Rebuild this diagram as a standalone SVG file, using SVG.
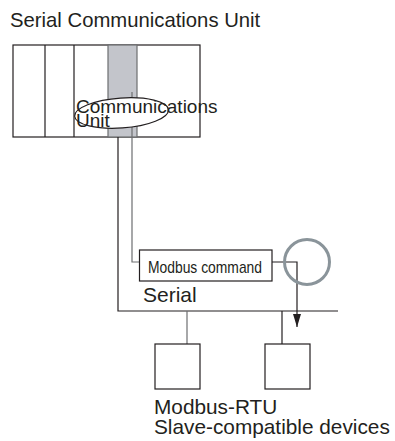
<svg xmlns="http://www.w3.org/2000/svg" width="395" height="441" viewBox="0 0 395 441">
<style>
text{font-family:"Liberation Sans",Arial,sans-serif;fill:#231f20}
.ln{stroke:#231f20;stroke-width:1.2;fill:none}
.gl{stroke:#6d6e71;stroke-width:1.2;fill:none}
.bx{stroke:#231f20;stroke-width:1.2;fill:#fff}
</style>
<defs>
<marker id="ah" markerWidth="13" markerHeight="8" refX="13" refY="4" orient="auto" markerUnits="userSpaceOnUse" viewBox="0 0 13 8">
<path d="M0,0 L13,4 L0,8 Z" fill="#231f20"/>
</marker>
</defs>
<text x="10" y="27" font-size="20.3">Serial Communications Unit</text>
<g id="plc">
<rect x="13" y="45" width="187" height="92" class="ln" fill="#fff"/>
<line x1="45" y1="45" x2="45" y2="137" class="ln"/>
<line x1="74" y1="45" x2="74" y2="137" class="ln"/>
<rect x="108" y="45" width="29" height="92" fill="#c3c5cb" stroke="#6d6e71" stroke-width="1.2"/>
<line x1="132" y1="92" x2="132" y2="137" class="gl"/>
</g>
<g id="connectors">
<polyline points="132,137 132,262 140,262" class="gl"/>
<polyline points="118,137 118,311 338,311" class="ln"/>
<polyline points="272,262 297,262 297,327" class="ln" marker-end="url(#ah)"/>
<line x1="187" y1="311" x2="187" y2="344" class="gl"/>
<line x1="282" y1="311" x2="282" y2="344" class="ln"/>
</g>
<g id="comm-unit">
<ellipse cx="121.5" cy="113" rx="47" ry="15" fill="#fff" stroke="#231f20" stroke-width="1.2" transform="rotate(-4 121.5 113)"/>
<text x="76" y="113" font-size="19">Communications</text>
<text x="76" y="127" font-size="19">Unit</text>
</g>
<g id="modbus-command">
<rect x="139.5" y="250" width="132.5" height="31" class="bx"/>
<text x="148" y="273" font-size="17" textLength="114" lengthAdjust="spacingAndGlyphs">Modbus command</text>
</g>
<g id="highlight">
<circle cx="307" cy="262" r="22.5" fill="none" stroke="#8a949a" stroke-width="3"/>
</g>
<text x="143" y="302" font-size="21">Serial</text>
<g id="device1"><rect x="155" y="344" width="45" height="45" class="bx"/></g>
<g id="device2"><rect x="265" y="344" width="45" height="45" class="bx"/></g>
<text x="154" y="414" font-size="20.8">Modbus-RTU</text>
<text x="154" y="434" font-size="20.8">Slave-compatible devices</text>
</svg>
